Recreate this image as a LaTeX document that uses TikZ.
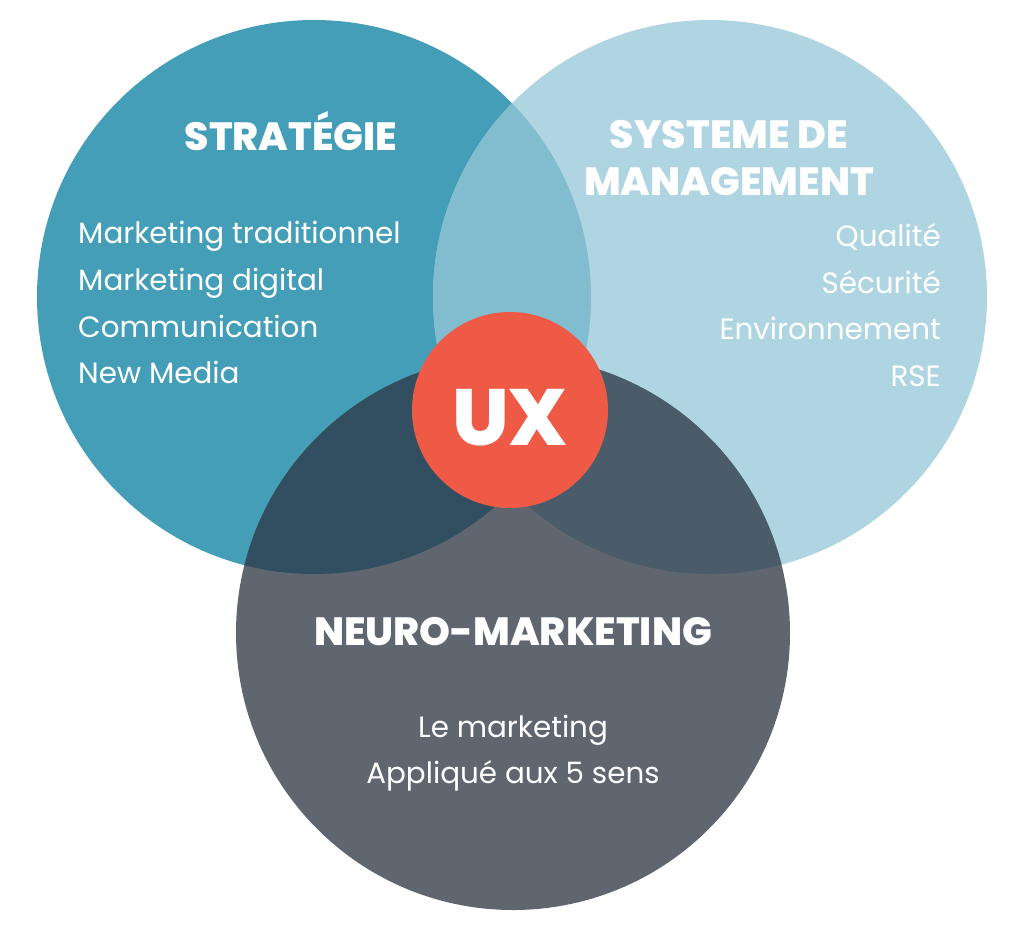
\documentclass[tikz,border=0pt]{standalone}
\usepackage{fontspec}
\setmainfont{Poppins}[BoldFont={* ExtraBold}]
\definecolor{cL}{HTML}{449EB8}
\definecolor{cR}{HTML}{AFD5E2}
\definecolor{cB}{HTML}{5F6670}
\definecolor{cLR}{HTML}{82BCCF}
\definecolor{cLB}{HTML}{324F61}
\definecolor{cRB}{HTML}{4A5C69}
\definecolor{cUX}{HTML}{EF5A47}
\tikzset{
  head/.style={text=white, font=\bfseries\fontsize{39.5}{47}\selectfont, inner sep=0pt, anchor=base},
  item/.style={text=white, font=\fontsize{29.5}{47}\selectfont, inner sep=0pt},
}
\begin{document}
\begin{tikzpicture}[x=1bp,y=-1bp]
\useasboundingbox (0,0) rectangle (1024,929);
\def\Lc{(314,297) circle (277)}
\def\Rc{(710,297) circle (277)}
\def\Bc{(513,633) circle (277)}
\fill[cL] \Lc;
\fill[cR] \Rc;
\fill[cB] \Bc;
\begin{scope}\clip \Lc; \fill[cLR] \Rc; \end{scope}
\begin{scope}\clip \Lc; \fill[cLB] \Bc; \end{scope}
\begin{scope}\clip \Rc; \fill[cRB] \Bc; \end{scope}
\node[circle, fill=cUX, minimum size=196bp, inner sep=0pt] (ux) at (510,410) {};
\node[text=white, font=\bfseries\fontsize{80}{80}\selectfont, inner sep=0pt, anchor=base] (uxt) at (510,445) {UX};
% left
\node[head] (strat) at (291,150) {STRATÉGIE};
\node[item, anchor=base west] (l1) at (78,243) {Marketing traditionnel};
\node[item, anchor=base west] (l2) at (78,290) {Marketing digital};
\node[item, anchor=base west] (l3) at (78,337) {Communication};
\node[item, anchor=base west] (l4) at (78,383) {New Media};
% right
\node[head] (sys1) at (729,148) {SYSTEME DE};
\node[head] (sys2) at (729,195) {MANAGEMENT};
\node[item, anchor=base east] (r1) at (941,246) {Qualité};
\node[item, anchor=base east] (r2) at (941,293) {Sécurité};
\node[item, anchor=base east] (r3) at (941,339) {Environnement};
\node[item, anchor=base east] (r4) at (941,386) {RSE};
% bottom
\node[head] (neuro) at (513,645) {NEURO-MARKETING};
\node[item, anchor=base] (b1) at (513,737) {Le marketing};
\node[item, anchor=base] (b2) at (513,783) {Appliqué aux 5 sens};
\end{tikzpicture}
\end{document}
